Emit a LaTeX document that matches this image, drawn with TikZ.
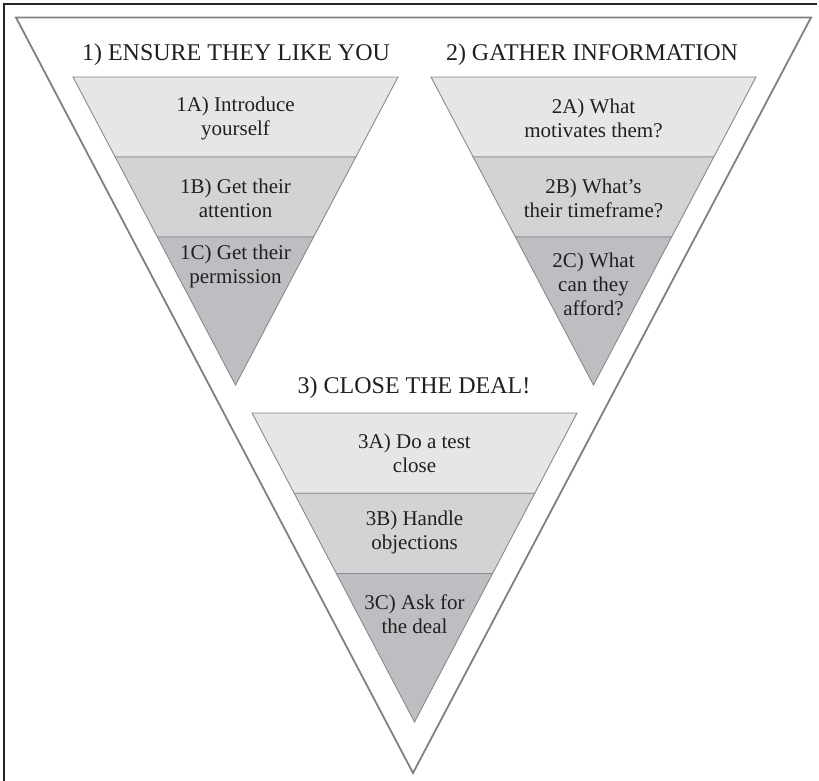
\documentclass[tikz,border=0pt]{standalone}
\usepackage{fontspec}
\setmainfont{Liberation Serif}
\usetikzlibrary{calc}
\definecolor{bandA}{HTML}{E6E6E7}
\definecolor{bandB}{HTML}{D2D3D5}
\definecolor{bandC}{HTML}{BDBEC1}
\definecolor{bandline}{HTML}{8A8A8C}
\definecolor{bigline}{HTML}{808080}
\definecolor{txt}{HTML}{231F20}
\tikzset{
  bandpath/.style={draw=bandline, line width=0.9pt, line join=miter},
  bigtri/.style={draw=bigline, line width=1.8pt, line join=miter},
  frameline/.style={draw=black!85, line width=1.8pt},
  title/.style={font=\fontsize{24}{28}\selectfont, text=txt, inner sep=0pt},
  label/.style={font=\fontsize{21}{24}\selectfont, text=txt, align=center, inner sep=0pt},
}
\newcommand\myfunnel[4]{%
  \coordinate (#1tl) at (#2,#3);
  \coordinate (#1tr) at (#2+325,#3);
  \coordinate (#1ap) at (#2+162.5,#4);
  \coordinate (#1la) at ($(#1tl)!0.2597!(#1ap)$);
  \coordinate (#1ra) at ($(#1tr)!0.2597!(#1ap)$);
  \coordinate (#1lb) at ($(#1tl)!0.5195!(#1ap)$);
  \coordinate (#1rb) at ($(#1tr)!0.5195!(#1ap)$);
  \path[bandpath, fill=bandA] (#1tl) -- (#1tr) -- (#1ra) -- (#1la) -- cycle;
  \path[bandpath, fill=bandB] (#1la) -- (#1ra) -- (#1rb) -- (#1lb) -- cycle;
  \path[bandpath, fill=bandC] (#1lb) -- (#1rb) -- (#1ap) -- cycle;
}
\begin{document}
\begin{tikzpicture}[x=1pt, y=-1pt]
\useasboundingbox (0,0) rectangle (819,780);
\fill[white] (0,0) rectangle (819,780);
% frame
\draw[frameline] (4,782) -- (4,4) -- (817,4);
% big triangle
\coordinate (BL) at (16,17.5);
\coordinate (BR) at (811,17.5);
\coordinate (BA) at (413,773);
\path[bigtri] (BL) -- (BR) -- (BA) -- cycle;
% funnels
\myfunnel{f1}{73}{77}{385}
\myfunnel{f2}{431}{77}{385}
\myfunnel{f3}{252}{413}{722}
% titles
\node[title] (t1) at (236,55) {1) ENSURE THEY LIKE YOU};
\node[title] (t2) at (592,55) {2) GATHER INFORMATION};
\node[title] (t3) at (414,388) {3) CLOSE THE DEAL!};
% labels
\node[label] (a1) at (235.5,118) {1A) Introduce\\yourself};
\node[label] (b1) at (235.5,198) {1B) Get their\\attention};
\node[label] (c1) at (235.5,266) {1C) Get their\\permission};
\node[label] (a2) at (593.5,118) {2A) What\\motivates them?};
\node[label] (b2) at (593.5,198) {2B) What’s\\their timeframe?};
\node[label] (c2) at (593.5,284) {2C) What\\can they\\afford?};
\node[label] (a3) at (414.5,453) {3A) Do a test\\close};
\node[label] (b3) at (414.5,532) {3B) Handle\\objections};
\node[label] (c3) at (414.5,614) {3C) Ask for\\the deal};
\end{tikzpicture}
\end{document}
